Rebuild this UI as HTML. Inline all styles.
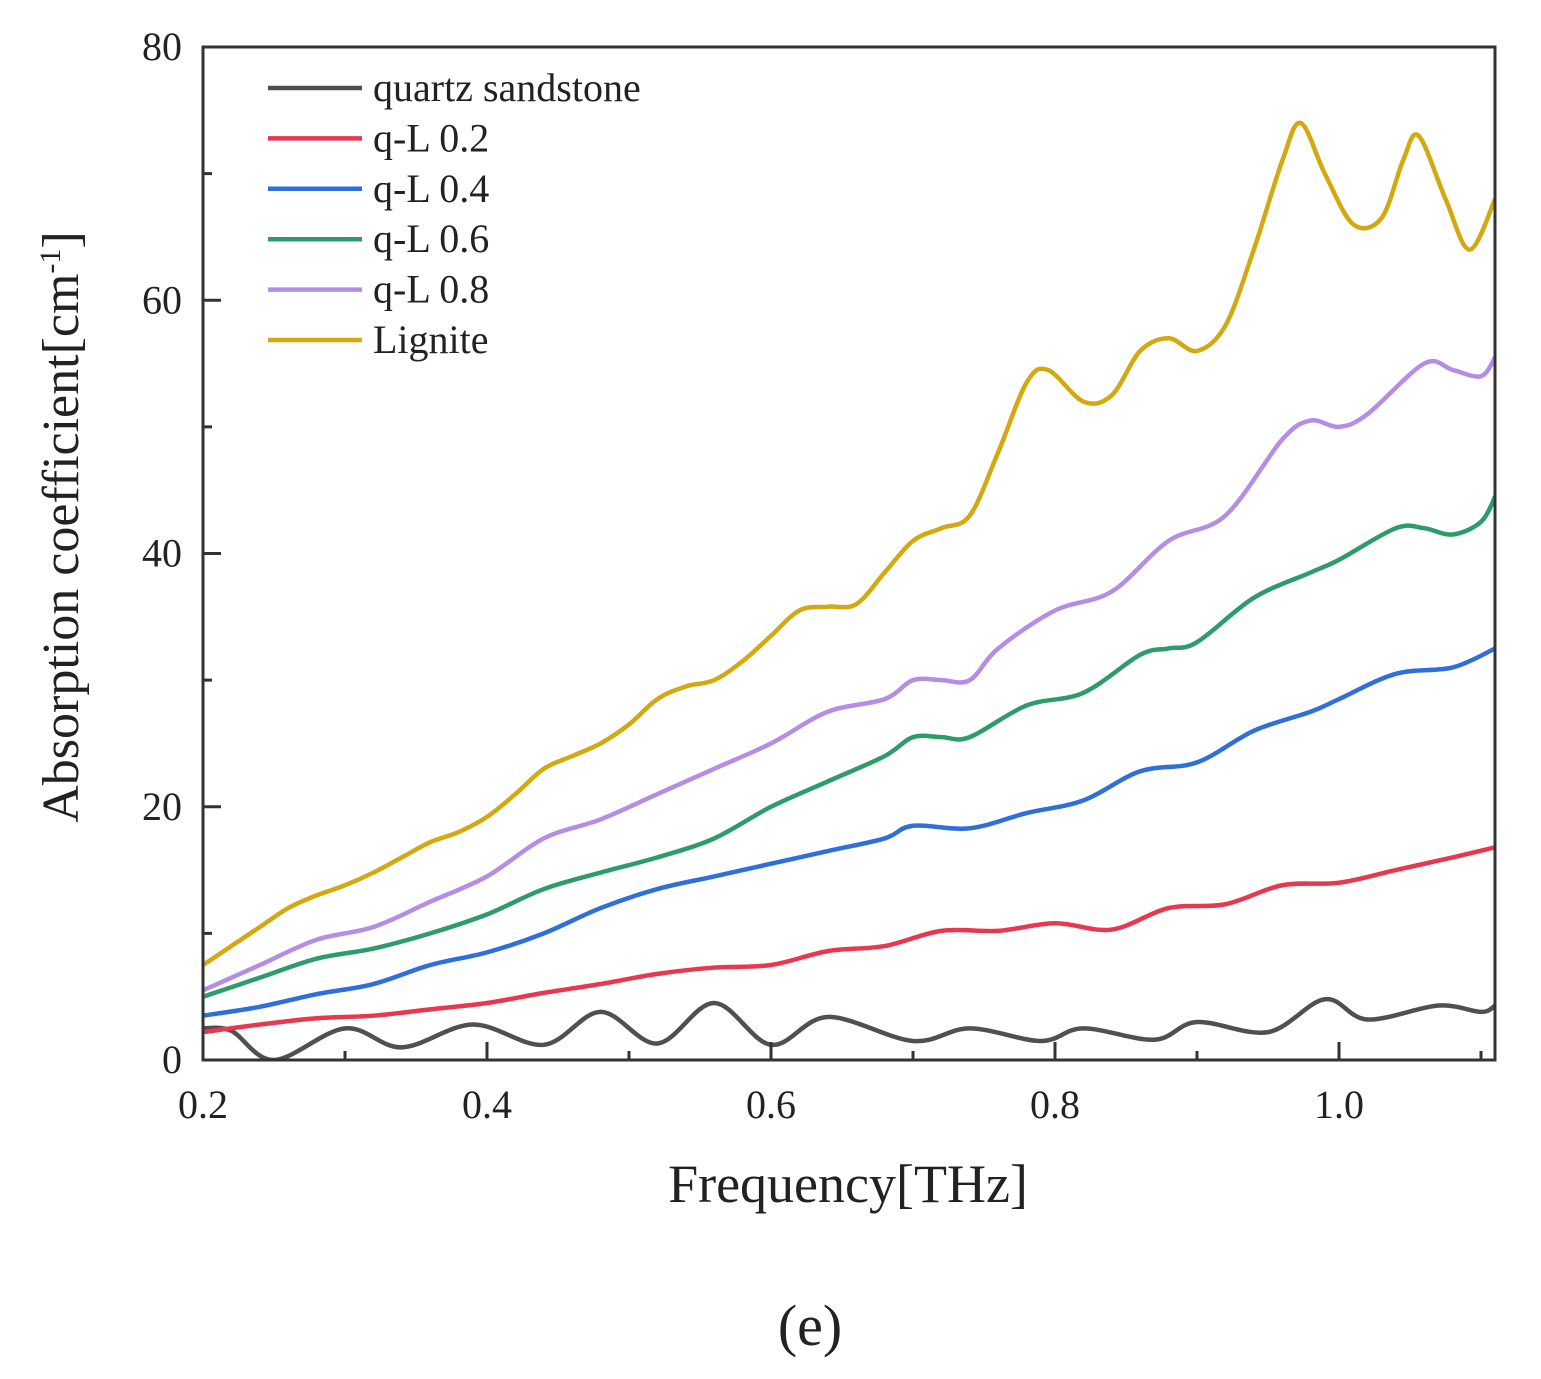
<!DOCTYPE html>
<html><head><meta charset="utf-8"><style>
body{margin:0;background:#fff;}
svg{display:block;font-family:"Liberation Serif",serif;}
</style></head><body>
<svg id="chart" width="1541" height="1379" viewBox="0 0 1541 1379">
<g id="plot"></g>
<g id="axes"></g>
<g id="legend"></g>
<text x="848" y="1202" font-size="54" text-anchor="middle" fill="#222">Frequency[THz]</text>
<text transform="translate(78,527) rotate(-90)" font-size="52" text-anchor="middle" fill="#222">Absorption coefficient[cm<tspan dy="-18" font-size="30">-1</tspan><tspan dy="18">]</tspan></text>
<text x="810" y="1345" font-size="58" text-anchor="middle" fill="#222">(e)</text>
</svg>
<script>
const xTicks=[0.2,0.4,0.6,0.8,1.0];
const xTickLabels=["0.2","0.4","0.6","0.8","1.0"];
const yTicks=[0,20,40,60,80];
const yTickLabels=["0","20","40","60","80"];
const seriesNames=["quartz sandstone","q-L 0.2","q-L 0.4","q-L 0.6","q-L 0.8","Lignite"];
const seriesColors=["#505050","#e8384f","#2f6fdc","#2e9c6a","#b48ee6","#d4a80f"];
const quartzX=[0.2,0.22,0.25,0.30,0.34,0.39,0.44,0.48,0.52,0.56,0.60,0.64,0.70,0.74,0.79,0.82,0.87,0.90,0.95,0.99,1.02,1.07,1.10,1.11];
const quartzY=[2.5,2.3,0,2.5,1,2.8,1.2,3.8,1.3,4.5,1.2,3.4,1.5,2.5,1.5,2.5,1.6,3,2.2,4.8,3.2,4.3,3.8,4.3];
const ql2X=[0.2,0.24,0.28,0.32,0.36,0.40,0.44,0.48,0.52,0.56,0.60,0.64,0.68,0.72,0.76,0.80,0.84,0.88,0.92,0.96,1.0,1.04,1.08,1.11];
const ql2Y=[2.2,2.8,3.3,3.5,4,4.5,5.3,6,6.8,7.3,7.5,8.6,9,10.2,10.2,10.8,10.3,12,12.3,13.8,14,15,16,16.8];
const ql4X=[0.2,0.24,0.28,0.32,0.36,0.40,0.44,0.48,0.52,0.56,0.60,0.64,0.68,0.70,0.74,0.78,0.82,0.86,0.90,0.94,0.98,1.0,1.04,1.08,1.11];
const ql4Y=[3.5,4.2,5.2,6,7.5,8.5,10,12,13.5,14.5,15.5,16.5,17.5,18.5,18.3,19.5,20.5,22.8,23.5,26,27.5,28.5,30.5,31,32.5];
const ql6X=[0.2,0.24,0.28,0.32,0.36,0.40,0.44,0.48,0.52,0.56,0.60,0.64,0.68,0.70,0.72,0.74,0.78,0.82,0.86,0.88,0.90,0.94,0.98,1.0,1.04,1.06,1.08,1.10,1.11];
const ql6Y=[5,6.5,8,8.8,10,11.5,13.5,14.8,16,17.5,20,22,24,25.5,25.5,25.5,28,29,32,32.5,33,36.5,38.5,39.5,42,42,41.5,42.5,44.5];
const ql8X=[0.2,0.24,0.28,0.32,0.36,0.40,0.44,0.48,0.52,0.56,0.60,0.64,0.68,0.70,0.72,0.74,0.76,0.80,0.84,0.88,0.92,0.96,0.98,1.0,1.02,1.06,1.08,1.10,1.11];
const ql8Y=[5.5,7.5,9.5,10.5,12.5,14.5,17.5,19,21,23,25,27.5,28.5,30,30,30,32.5,35.5,37,41,43,49,50.5,50,51,55,54.5,54,55.5];
const ligX=[0.2,0.22,0.24,0.26,0.28,0.30,0.32,0.34,0.36,0.38,0.40,0.42,0.44,0.46,0.48,0.50,0.52,0.54,0.56,0.58,0.60,0.62,0.64,0.66,0.68,0.70,0.72,0.74,0.76,0.78,0.795,0.82,0.84,0.86,0.88,0.90,0.92,0.94,0.96,0.973,0.99,1.01,1.03,1.045,1.056,1.075,1.092,1.11];
const ligY=[7.5,9,10.5,12,13,13.8,14.8,16,17.2,18,19.2,21,23,24,25,26.5,28.5,29.5,30,31.5,33.5,35.5,35.8,36,38.5,41,42,43,48,53.5,54.5,52,52.5,56,57,56,58,64,71,74,70,66,66.5,71,73,68,64,68];
const seriesX=[quartzX,ql2X,ql4X,ql6X,ql8X,ligX];
const seriesY=[quartzY,ql2Y,ql4Y,ql6Y,ql8Y,ligY];

const L=203,R=1495,T=47,B=1060;
const xs=v=>L+(v-0.2)/0.2*284;
const ys=v=>B-v*(B-T)/80;
const NS="http://www.w3.org/2000/svg";
function mk(tag,attrs,parent){const e=document.createElementNS(NS,tag);for(const k in attrs)e.setAttribute(k,attrs[k]);parent.appendChild(e);return e;}
const svg=document.getElementById('chart');
const defs=mk('defs',{},svg);
const cp=mk('clipPath',{id:'clip'},defs);
mk('rect',{x:L,y:T,width:R-L,height:B-T},cp);
const plot=document.getElementById('plot');
plot.setAttribute('clip-path','url(#clip)');
function smooth(px,py){
  let d=`M${px[0]},${py[0]}`;
  for(let i=0;i<px.length-1;i++){
    const p0=i?i-1:i,p3=i+2<px.length?i+2:i+1;
    const c1x=px[i]+(px[i+1]-px[p0])/6,c1y=py[i]+(py[i+1]-py[p0])/6;
    const c2x=px[i+1]-(px[p3]-px[i])/6,c2y=py[i+1]-(py[p3]-py[i])/6;
    d+=` C${c1x},${c1y} ${c2x},${c2y} ${px[i+1]},${py[i+1]}`;
  }
  return d;
}
seriesX.forEach((sx,i)=>{
  const p=mk('path',{d:smooth(sx.map(xs),seriesY[i].map(ys)),fill:'none',stroke:seriesColors[i],'stroke-width':4.5},plot);
  
  
});
const axes=document.getElementById('axes');
const frame=mk('rect',{x:L,y:T,width:R-L,height:B-T,fill:'none',stroke:'#333','stroke-width':3},axes);


xTicks.forEach((v,i)=>{
  const x=xs(v);
  mk('line',{x1:x,x2:x,y1:B,y2:B-18,stroke:'#333','stroke-width':3},axes);
  const m=xs(v+0.1);
  if(m<R) mk('line',{x1:m,x2:m,y1:B,y2:B-9,stroke:'#333','stroke-width':3},axes);
  const t=mk('text',{x:x,y:1118,'font-size':40,'text-anchor':'middle',fill:'#222'},axes);
  t.textContent=xTickLabels[i];
  
  
});
yTicks.forEach((v,i)=>{
  const y=ys(v);
  mk('line',{x1:L,x2:L+18,y1:y,y2:y,stroke:'#333','stroke-width':3},axes);
  if(v<80){const m=ys(v+10);mk('line',{x1:L,x2:L+9,y1:m,y2:m,stroke:'#333','stroke-width':3},axes);}
  const t=mk('text',{x:182,y:y+13,'font-size':40,'text-anchor':'end',fill:'#222'},axes);
  t.textContent=yTickLabels[i];
  
  
});
const leg=document.getElementById('legend');
seriesNames.forEach((n,i)=>{
  const y=88+i*50.4;
  const g=mk('g',{},leg);
  
  
  mk('line',{x1:268,x2:362,y1:y,y2:y,stroke:seriesColors[i],'stroke-width':4.5},g);
  const t=mk('text',{x:373,y:y+13,'font-size':40,fill:'#222'},g);
  t.textContent=n;
});
</script>
</body></html>
